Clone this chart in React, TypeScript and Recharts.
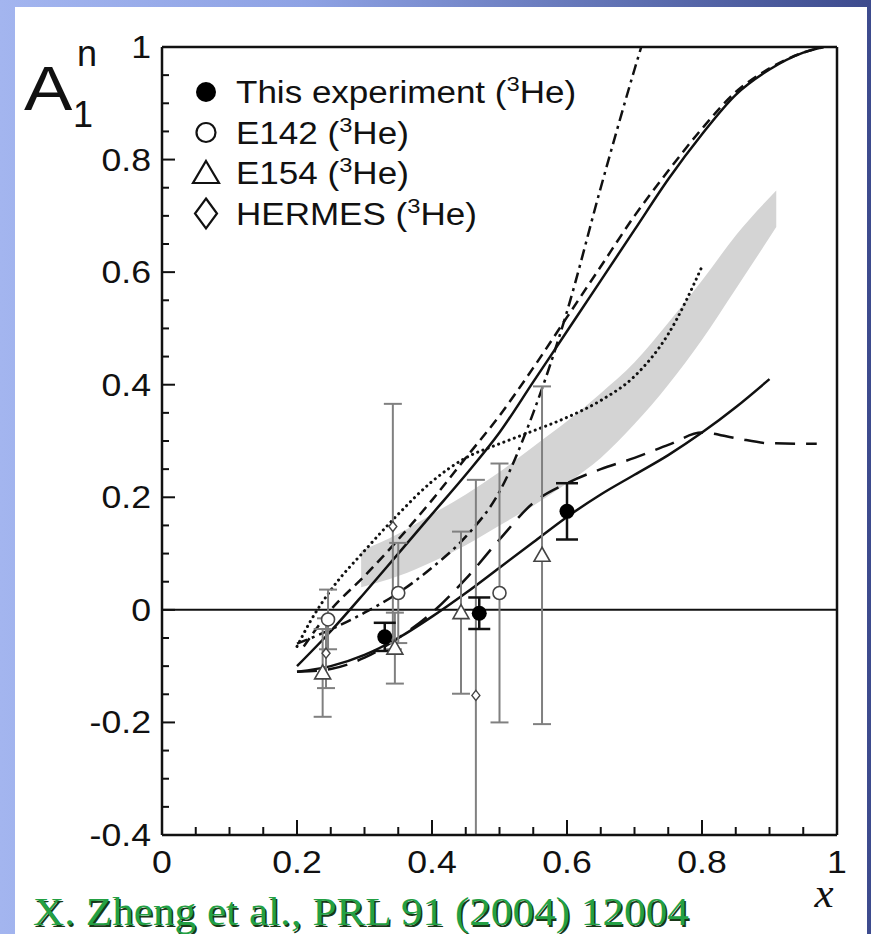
import {
  ComposedChart,
  Line,
  Area,
  Scatter,
  XAxis,
  YAxis,
  ReferenceLine,
  ErrorBar,
  Legend,
} from 'recharts'

// ---- data ----
const thisX = [0.33, 0.47, 0.6]
const thisY = [-0.048, -0.006, 0.175]
const thisErr = [0.025, 0.028, 0.05]

const e142X = [0.246, 0.35, 0.5]
const e142Y = [-0.017, 0.03, 0.03]
const e142Err = [0.053, 0.089, 0.23]

const e154X = [0.238, 0.345, 0.443, 0.563]
const e154Y = [-0.112, -0.068, -0.005, 0.097]
const e154Err = [0.078, 0.063, 0.144, 0.3]

const hermesX = [0.243, 0.342, 0.465]
const hermesY = [-0.077, 0.148, -0.152]
const hermesErr = [0.062, 0.218, 0.383]

const upperSolidX = [0.2, 0.25, 0.3, 0.35, 0.4, 0.45, 0.5, 0.55, 0.6, 0.65, 0.7, 0.75, 0.8, 0.85, 0.9, 0.95, 0.98]
const upperSolidY = [-0.1, -0.038, 0.03, 0.1, 0.17, 0.24, 0.315, 0.405, 0.495, 0.585, 0.675, 0.765, 0.845, 0.915, 0.96, 0.99, 1.0]

const shortDashX = [0.21, 0.25, 0.3, 0.35, 0.4, 0.45, 0.5, 0.55, 0.6, 0.65, 0.7, 0.75, 0.8, 0.85, 0.9, 0.95, 0.98]
const shortDashY = [-0.065, 0.0, 0.06, 0.125, 0.195, 0.27, 0.345, 0.43, 0.52, 0.61, 0.7, 0.78, 0.855, 0.92, 0.962, 0.99, 1.0]

const dashDotX = [0.2, 0.25, 0.3, 0.35, 0.4, 0.45, 0.5, 0.55, 0.6, 0.65, 0.7, 0.71]
const dashDotY = [-0.06, -0.035, -0.005, 0.03, 0.075, 0.13, 0.21, 0.35, 0.53, 0.75, 0.96, 1.0]

const dottedX = [0.2, 0.22, 0.25, 0.3, 0.35, 0.4, 0.45, 0.5, 0.55, 0.6, 0.65, 0.7, 0.75, 0.8]
const dottedY = [-0.065, -0.02, 0.035, 0.105, 0.17, 0.228, 0.27, 0.295, 0.318, 0.342, 0.372, 0.415, 0.49, 0.61]

const longDashX = [0.2, 0.25, 0.3, 0.35, 0.4, 0.45, 0.5, 0.55, 0.6, 0.65, 0.7, 0.75, 0.8, 0.85, 0.9, 0.97]
const longDashY = [-0.11, -0.105, -0.085, -0.05, -0.005, 0.055, 0.125, 0.19, 0.225, 0.25, 0.27, 0.293, 0.315, 0.305, 0.296, 0.295]

const lowerSolidX = [0.2, 0.25, 0.3, 0.35, 0.4, 0.45, 0.5, 0.55, 0.6, 0.65, 0.7, 0.75, 0.8, 0.85, 0.9]
const lowerSolidY = [-0.11, -0.1, -0.08, -0.05, -0.012, 0.03, 0.075, 0.12, 0.165, 0.205, 0.24, 0.275, 0.315, 0.36, 0.41]

const bandX = [0.295, 0.35, 0.4, 0.45, 0.5, 0.55, 0.6, 0.65, 0.7, 0.75, 0.8, 0.85, 0.91]
const bandLo = [0.04, 0.06, 0.085, 0.115, 0.15, 0.185, 0.225, 0.27, 0.33, 0.4, 0.48, 0.57, 0.68]
const bandHi = [0.105, 0.135, 0.17, 0.205, 0.245, 0.29, 0.335, 0.385, 0.44, 0.51, 0.585, 0.665, 0.745]

const legendNames = ['This experiment', 'E142', 'E154', 'HERMES']

const X_MIN = 0
const X_MAX = 1
const Y_MIN = -0.4
const Y_MAX = 1
const xMajor = [0, 0.2, 0.4, 0.6, 0.8, 1]
const yMajor = [-0.4, -0.2, 0, 0.2, 0.4, 0.6, 0.8, 1]
// minor ticks every 0.05
const xTicks = Array.from({ length: 21 }, (_, i) => Math.round(i * 5) / 100)
const yTicks = Array.from({ length: 29 }, (_, i) => Math.round(-40 + i * 5) / 100)

// error bars stop at the frame, like the original plot
const pts = (xs: number[], ys: number[], es?: number[]) =>
  xs.map((x, i) => {
    const e = es ? es[i] : 0
    const y = ys[i]
    return { x, y, errs: [Math.min(e, y - Y_MIN), Math.min(e, Y_MAX - y)] }
  })

const thisData = pts(thisX, thisY, thisErr)
const e142Data = pts(e142X, e142Y, e142Err)
const e154Data = pts(e154X, e154Y, e154Err)
const hermesData = pts(hermesX, hermesY, hermesErr)
const bandData = bandX.map((x, i) => ({ x, lo: bandLo[i], hi: bandHi[i] }))

const SANS = '"Liberation Sans", Arial, Helvetica, sans-serif'
const SERIF = '"Liberation Serif", "Times New Roman", serif'
const INK = '#111'

const isMajor = (v: number, majors: number[]) => majors.some(m => Math.abs(m - v) < 1e-6)
const fmt = (v: number) => String(Math.round(v * 10) / 10)

const YTick = (props: any) => {
  const { x, y, payload } = props
  const major = isMajor(payload.value, yMajor)
  return (
    <g>
      <line x1={x} x2={x + (major ? 13 : 7)} y1={y} y2={y} stroke={INK} strokeWidth={2} />
      {major && (
        <text
          transform={`translate(${x - 11},${y + 11}) scale(1.15,1)`}
          textAnchor="end"
          fontSize={31}
          fontFamily={SANS}
          fill={INK}
        >
          {fmt(payload.value)}
        </text>
      )}
    </g>
  )
}

const XTick = (props: any) => {
  const { x, y, payload } = props
  const major = isMajor(payload.value, xMajor)
  return (
    <g>
      <line x1={x} x2={x} y1={y} y2={y - (major ? 15 : 8)} stroke={INK} strokeWidth={2} />
      {major && (
        <text
          transform={`translate(${x},${y + 38}) scale(1.15,1)`}
          textAnchor="middle"
          fontSize={31}
          fontFamily={SANS}
          fill={INK}
        >
          {fmt(payload.value)}
        </text>
      )}
    </g>
  )
}

const FilledDot = (p: any) => <circle cx={p.cx} cy={p.cy} r={7.5} fill="#000" />
const OpenCircle = (p: any) => (
  <circle cx={p.cx} cy={p.cy} r={6.5} fill="#fff" stroke="#444" strokeWidth={1.6} />
)
const Triangle = (p: any) => (
  <path
    d={`M${p.cx},${p.cy - 8} L${p.cx + 8},${p.cy + 6} L${p.cx - 8},${p.cy + 6} Z`}
    fill="#fff"
    stroke="#444"
    strokeWidth={1.6}
  />
)
const SmallDiamond = (p: any) => (
  <path
    d={`M${p.cx},${p.cy - 5} L${p.cx + 4},${p.cy} L${p.cx},${p.cy + 5} L${p.cx - 4},${p.cy} Z`}
    fill="#fff"
    stroke="#444"
    strokeWidth={1.4}
  />
)

const legendMarker = (i: number) => {
  const cx = 26
  const cy = 22 + i * 40.5
  if (i === 0) return <circle cx={cx} cy={cy} r={10} fill="#000" />
  if (i === 1) return <circle cx={cx} cy={cy} r={9.5} fill="none" stroke={INK} strokeWidth={2.2} />
  if (i === 2)
    return (
      <path
        d={`M${cx},${cy - 12} L${cx + 13},${cy + 10} L${cx - 13},${cy + 10} Z`}
        fill="none"
        stroke={INK}
        strokeWidth={2.2}
      />
    )
  return (
    <path
      d={`M${cx},${cy - 15} L${cx + 11},${cy} L${cx},${cy + 15} L${cx - 11},${cy} Z`}
      fill="none"
      stroke={INK}
      strokeWidth={2.2}
    />
  )
}

const LegendBox = () => (
  <svg width={420} height={175}>
    {legendNames.map((name, i) => (
      <g key={name}>
        {legendMarker(i)}
        <text
          transform={`translate(56,${22 + i * 40.5 + 11}) scale(1.13,1)`}
          fontSize={31}
          fontFamily={SANS}
          fill={INK}
        >
          {name} (<tspan dy={-12} fontSize={21}>3</tspan>
          <tspan dy={12}>He)</tspan>
        </text>
      </g>
    ))}
  </svg>
)

export default function App() {
  return (
    <div
      style={{
        position: 'absolute',
        left: 0,
        top: 0,
        width: 871,
        height: 934,
        overflow: 'hidden',
        background: 'linear-gradient(to right, #a3b5ef 0%, #8ea2e4 35%, #5b6cae 75%, #3d4b8e 100%)',
      }}
    >
      <div
        style={{
          position: 'absolute',
          left: 15,
          top: 7,
          width: 852,
          height: 927,
          background: '#fff',
        }}
      />
      <div style={{ position: 'absolute', left: 0, top: 0 }}>
        <ComposedChart width={871} height={934} margin={{ top: 47, right: 34, bottom: 59, left: 102 }}>
          <XAxis
            type="number"
            dataKey="x"
            domain={[X_MIN, X_MAX]}
            ticks={xTicks}
            interval={0}
            tick={<XTick />}
            tickSize={0}
            tickMargin={0}
            axisLine={{ stroke: INK, strokeWidth: 2.5 }}
            tickLine={false}
            height={40}
          />
          <YAxis
            type="number"
            domain={[Y_MIN, Y_MAX]}
            ticks={yTicks}
            interval={0}
            allowDataOverflow
            tick={<YTick />}
            tickSize={0}
            tickMargin={0}
            axisLine={{ stroke: INK, strokeWidth: 2.5 }}
            tickLine={false}
            width={60}
          />
          <ReferenceLine y={1} stroke={INK} strokeWidth={2.5} />
          <ReferenceLine x={1} stroke={INK} strokeWidth={2.5} />
          <ReferenceLine y={0} stroke={INK} strokeWidth={2} />
          <Legend
            layout="horizontal"
            verticalAlign="middle"
            align="center"
            wrapperStyle={{ top: 70, left: 180, width: 420, height: 175 }}
            content={() => <LegendBox />}
          />

          <Area
            data={bandData}
            dataKey={(d: any) => [d.lo, d.hi]}
            type="monotone"
            stroke="none"
            fill="#d4d4d4"
            fillOpacity={1}
            isAnimationActive={false}
            activeDot={false}
          />

          <Line data={pts(lowerSolidX, lowerSolidY)} dataKey="y" type="monotone" stroke={INK} strokeWidth={2.5} dot={false} activeDot={false} isAnimationActive={false} />
          <Line data={pts(longDashX, longDashY)} dataKey="y" type="monotone" stroke={INK} strokeWidth={2.5} strokeDasharray="20 11" dot={false} activeDot={false} isAnimationActive={false} />
          <Line data={pts(dottedX, dottedY)} dataKey="y" type="monotone" stroke={INK} strokeWidth={3} strokeDasharray="0.1 5.5" strokeLinecap="round" dot={false} activeDot={false} isAnimationActive={false} />
          <Line data={pts(dashDotX, dashDotY)} dataKey="y" type="monotone" stroke={INK} strokeWidth={2.5} strokeDasharray="11 5 3 5" dot={false} activeDot={false} isAnimationActive={false} />
          <Line data={pts(shortDashX, shortDashY)} dataKey="y" type="monotone" stroke={INK} strokeWidth={2.5} strokeDasharray="10 6" dot={false} activeDot={false} isAnimationActive={false} />
          <Line data={pts(upperSolidX, upperSolidY)} dataKey="y" type="monotone" stroke={INK} strokeWidth={2.5} dot={false} activeDot={false} isAnimationActive={false} />

          <Scatter data={e154Data} dataKey="y" shape={<Triangle />} isAnimationActive={false}>
            <ErrorBar dataKey="errs" direction="y" width={9} stroke="#808080" strokeWidth={2} />
          </Scatter>
          <Scatter data={hermesData} dataKey="y" shape={<SmallDiamond />} isAnimationActive={false}>
            <ErrorBar dataKey="errs" direction="y" width={9} stroke="#808080" strokeWidth={2} />
          </Scatter>
          <Scatter data={e142Data} dataKey="y" shape={<OpenCircle />} isAnimationActive={false}>
            <ErrorBar dataKey="errs" direction="y" width={9} stroke="#808080" strokeWidth={2} />
          </Scatter>
          <Scatter data={thisData} dataKey="y" shape={<FilledDot />} isAnimationActive={false}>
            <ErrorBar dataKey="errs" direction="y" width={11} stroke={INK} strokeWidth={2.5} />
          </Scatter>
        </ComposedChart>
      </div>

      <svg
        width={871}
        height={934}
        style={{ position: 'absolute', left: 0, top: 0, pointerEvents: 'none' }}
      >
        <text transform="translate(24,110) scale(1.15,1)" fontSize={63} fontFamily={SANS} fill={INK}>
          A
        </text>
        <text x={77} y={66} fontSize={36} fontFamily={SANS} fill={INK}>
          n
        </text>
        <text x={73} y={127} fontSize={36} fontFamily={SANS} fill={INK}>
          1
        </text>
        <text x={824} y={907} textAnchor="middle" fontSize={43} fontStyle="italic" fontFamily={SERIF} fill={INK}>
          x
        </text>
        <text transform="translate(34.5,926.5) scale(1.08,1)" fontSize={40} fontFamily={SERIF} fill="#183818">
          X. Zheng et al., PRL 91 (2004) 12004
        </text>
        <text transform="translate(33,925) scale(1.08,1)" fontSize={40} fontFamily={SERIF} fill="#23a043">
          X. Zheng et al., PRL 91 (2004) 12004
        </text>
      </svg>
    </div>
  )
}
